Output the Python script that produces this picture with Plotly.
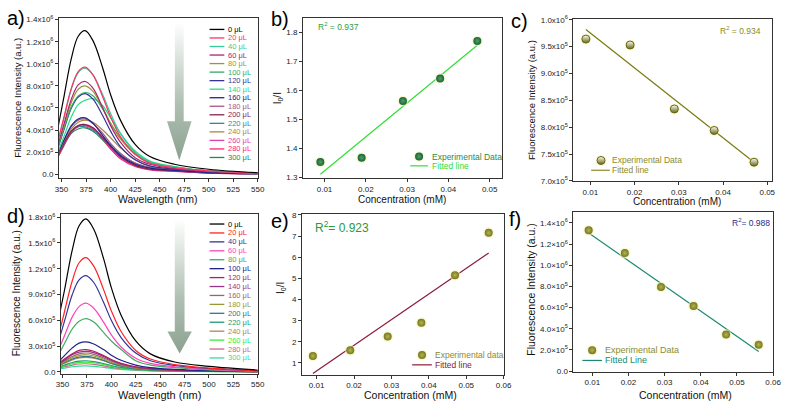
import plotly.graph_objects as go

W, H = 789, 407
FONT = "Liberation Sans, Arial, sans-serif"


def px(x):
    return x / W


def py(y):
    return 1 - y / H


# ---------------- DATA ----------------
WL = [345, 352, 360, 367, 374, 382, 392, 400, 410, 425, 440, 465, 500, 550]
VOLUMES = ["0", "20", "40", "60", "80", "100", "120", "140", "160", "180",
           "200", "220", "240", "260", "280", "300"]

# panel a spectra (units of 1e5 a.u.)
SPEC_A = [
    [3.6, 6.8, 10.5, 12.5, 13.0, 12.1, 9.6, 7.2, 4.9, 2.7, 1.6, 0.9, 0.45, 0.13],
    [2.6, 5.0, 7.8, 9.3, 9.7, 9.0, 7.0, 5.2, 3.4, 1.8, 1.0, 0.6, 0.3, 0.1],
    [2.5, 4.9, 7.7, 9.2, 9.6, 9.0, 7.2, 5.5, 3.7, 2.0, 1.1, 0.65, 0.3, 0.1],
    [2.3, 4.4, 6.8, 8.1, 8.4, 7.8, 6.0, 4.4, 2.9, 1.5, 0.9, 0.5, 0.25, 0.08],
    [2.2, 4.2, 6.5, 7.7, 8.0, 7.5, 6.0, 4.6, 3.2, 1.8, 1.0, 0.6, 0.3, 0.1],
    [2.1, 4.0, 6.1, 7.1, 7.4, 7.1, 5.9, 4.6, 3.3, 1.9, 1.1, 0.65, 0.3, 0.1],
    [2.0, 3.9, 6.0, 7.0, 7.3, 6.8, 5.3, 3.9, 2.5, 1.3, 0.75, 0.45, 0.2, 0.08],
    [1.7, 3.3, 5.2, 6.3, 6.7, 6.85, 6.2, 5.1, 3.7, 2.1, 1.2, 0.7, 0.3, 0.1],
    [1.6, 3.0, 4.4, 5.0, 5.1, 4.6, 3.5, 2.6, 1.7, 0.9, 0.55, 0.35, 0.15, 0.05],
    [1.5, 2.9, 4.3, 4.9, 5.0, 4.6, 3.7, 2.8, 1.9, 1.0, 0.6, 0.35, 0.15, 0.05],
    [1.4, 2.7, 3.9, 4.4, 4.5, 4.2, 3.3, 2.5, 1.6, 0.8, 0.45, 0.3, 0.12, 0.05],
    [1.5, 2.8, 3.9, 4.3, 4.3, 4.0, 3.3, 2.6, 1.8, 1.0, 0.6, 0.35, 0.15, 0.05],
    [1.5, 2.8, 4.1, 4.7, 4.9, 4.7, 4.0, 3.3, 2.4, 1.3, 0.7, 0.4, 0.18, 0.06],
    [1.4, 2.7, 3.9, 4.4, 4.5, 4.2, 3.3, 2.4, 1.5, 0.75, 0.45, 0.3, 0.12, 0.05],
    [1.3, 2.6, 3.8, 4.3, 4.4, 4.1, 3.2, 2.3, 1.4, 0.7, 0.4, 0.25, 0.1, 0.04],
    [1.3, 2.5, 3.7, 4.1, 4.2, 3.9, 3.1, 2.3, 1.5, 0.8, 0.45, 0.3, 0.12, 0.05],
]
COLORS_A = ["#000000", "#ff3366", "#33cc99", "#aa2277", "#999933", "#33aa66",
            "#333399", "#22dd88", "#222288", "#aa5588", "#882255", "#338899",
            "#aa8844", "#dd44aa", "#ff2277", "#228855"]

# panel d spectra (units of 1e5 a.u.)
SPEC_D = [
    [5.6, 9.5, 14.2, 17.0, 17.8, 16.6, 13.2, 9.8, 6.6, 3.6, 2.1, 1.15, 0.65, 0.22],
    [3.8, 7.0, 10.6, 12.7, 13.3, 12.3, 9.6, 7.1, 4.7, 2.5, 1.5, 0.85, 0.45, 0.15],
    [3.2, 5.9, 9.0, 10.7, 11.2, 10.4, 8.1, 6.0, 4.0, 2.2, 1.3, 0.75, 0.4, 0.15],
    [2.3, 4.2, 6.4, 7.6, 8.0, 7.4, 5.8, 4.3, 2.9, 1.6, 1.0, 0.6, 0.3, 0.1],
    [1.8, 3.3, 5.0, 5.9, 6.2, 5.8, 4.6, 3.6, 2.6, 1.3, 0.8, 0.5, 0.25, 0.08],
    [1.1, 1.9, 2.8, 3.35, 3.5, 3.25, 2.6, 1.95, 1.35, 0.8, 0.5, 0.3, 0.15, 0.05],
    [0.9, 1.5, 2.1, 2.5, 2.6, 2.4, 1.9, 1.45, 1.0, 0.6, 0.38, 0.22, 0.12, 0.04],
    [0.85, 1.4, 2.0, 2.3, 2.4, 2.25, 1.8, 1.35, 0.95, 0.55, 0.35, 0.2, 0.1, 0.04],
    [0.8, 1.3, 1.8, 2.1, 2.2, 2.05, 1.65, 1.25, 0.85, 0.5, 0.32, 0.2, 0.1, 0.04],
    [0.7, 1.2, 1.65, 1.9, 2.0, 1.85, 1.5, 1.1, 0.8, 0.45, 0.3, 0.18, 0.09, 0.03],
    [0.65, 1.1, 1.5, 1.72, 1.8, 1.68, 1.35, 1.0, 0.7, 0.42, 0.27, 0.16, 0.08, 0.03],
    [0.5, 0.8, 1.1, 1.25, 1.3, 1.2, 0.98, 0.75, 0.52, 0.32, 0.2, 0.12, 0.06, 0.02],
    [0.6, 1.0, 1.4, 1.62, 1.7, 1.6, 1.3, 0.98, 0.68, 0.4, 0.26, 0.15, 0.08, 0.03],
    [0.45, 0.7, 0.95, 1.1, 1.15, 1.07, 0.86, 0.65, 0.45, 0.28, 0.18, 0.1, 0.05, 0.02],
    [0.4, 0.6, 0.8, 0.92, 0.95, 0.88, 0.7, 0.53, 0.37, 0.23, 0.15, 0.09, 0.05, 0.02],
    [0.3, 0.45, 0.6, 0.68, 0.7, 0.65, 0.52, 0.4, 0.28, 0.17, 0.11, 0.07, 0.04, 0.02],
]
COLORS_D = ["#000000", "#ff2222", "#333399", "#ff44bb", "#44aa66", "#222288",
            "#aa2266", "#993388", "#996666", "#999933", "#337788", "#229977",
            "#aa8855", "#33ee33", "#cc6688", "#33dd99"]

# panel b
CONC_B = [0.009, 0.019, 0.029, 0.038, 0.047]
RATIO_B = [1.352, 1.367, 1.563, 1.640, 1.770]
FIT_B_X = [0.009, 0.047]
FIT_B_Y = [1.310, 1.755]

# panel c (units of 1e5)
CONC_C = [0.009, 0.019, 0.029, 0.038, 0.047]
INT_C = [9.64, 9.53, 8.34, 7.94, 7.35]
FIT_C_X = [0.009, 0.047]
FIT_C_Y = [9.82, 7.35]

# panel e
CONC_E = [0.009, 0.019, 0.029, 0.038, 0.047, 0.056]
RATIO_E = [1.33, 1.60, 2.25, 2.90, 5.15, 7.15]
FIT_E_X = [0.009, 0.056]
FIT_E_Y = [0.50, 6.20]

# panel f (units of 1e5)
CONC_F = [0.009, 0.019, 0.029, 0.038, 0.047, 0.056]
INT_F = [13.30, 11.15, 7.95, 6.15, 3.45, 2.50]
FIT_F_X = [0.009, 0.056]
FIT_F_Y = [13.05, 1.85]

TICKS_A = [0, 2, 4, 6, 8, 10, 12, 14]
TICKTEXT_A = ["0.0", "2.0x10<sup>5</sup>", "4.0x10<sup>5</sup>", "6.0x10<sup>5</sup>",
              "8.0x10<sup>5</sup>", "1.0x10<sup>6</sup>", "1.2x10<sup>6</sup>",
              "1.4x10<sup>6</sup>"]
TICKS_D = [0, 3, 6, 9, 12, 15, 18]
TICKTEXT_D = ["0.0", "3.0x10<sup>5</sup>", "6.0x10<sup>5</sup>", "9.0x10<sup>5</sup>",
              "1.2x10<sup>6</sup>", "1.5x10<sup>6</sup>", "1.8x10<sup>6</sup>"]
TICKS_C = [7.0, 7.5, 8.0, 8.5, 9.0, 9.5, 10.0]
TICKTEXT_C = ["7.0x10<sup>5</sup>", "7.5x10<sup>5</sup>", "8.0x10<sup>5</sup>",
              "8.5x10<sup>5</sup>", "9.0x10<sup>5</sup>", "9.5x10<sup>5</sup>",
              "1.0x10<sup>6</sup>"]
TICKS_F = [0, 2, 4, 6, 8, 10, 12, 14]
TICKTEXT_F = ["0.0", "2.0×10<sup>5</sup>", "4.0×10<sup>5</sup>", "6.0×10<sup>5</sup>",
              "8.0×10<sup>5</sup>", "1.0×10<sup>6</sup>", "1.2×10<sup>6</sup>",
              "1.4×10<sup>6</sup>"]
WL_TICKS = [350, 375, 400, 425, 450, 475, 500, 525, 550]
CONC_TICKS_5 = [0.01, 0.02, 0.03, 0.04, 0.05]
CONC_LABELS_5 = ["0.01", "0.02", "0.03", "0.04", "0.05"]
CONC_TICKS_6 = [0.01, 0.02, 0.03, 0.04, 0.05, 0.06]
CONC_LABELS_6 = ["0.01", "0.02", "0.03", "0.04", "0.05", "0.06"]

# ---------------- LAYOUT GEOMETRY (pixels) ----------------
PANELS = {
    "a": dict(ax="", xd=(55, 257), yd=(14, 178), xr=(347.5, 550), yr=(-0.35, 14.18)),
    "b": dict(ax="2", xd=(303, 505), yd=(14, 178), xr=(0.0048, 0.0529), yr=(1.297, 1.85)),
    "c": dict(ax="3", xd=(578, 780), yd=(15, 181), xr=(0.0062, 0.0511), yr=(7.0, 10.02)),
    "d": dict(ax="4", xd=(57, 257), yd=(215, 378), xr=(348.5, 550), yr=(-0.2, 18.34)),
    "e": dict(ax="5", xd=(302, 507), yd=(215, 379), xr=(0.0061, 0.06), yr=(0.45, 8.03)),
    "f": dict(ax="6", xd=(578, 781), yd=(213, 376), xr=(0.0048, 0.06), yr=(-0.05, 15.0)),
}


def to_data(p, xpx, ypx):
    P = PANELS[p]
    (x0, x1), (y0, y1) = P["xd"], P["yd"]
    (r0, r1), (s0, s1) = P["xr"], P["yr"]
    return (r0 + (xpx - x0) / (x1 - x0) * (r1 - r0),
            s1 - (ypx - y0) / (y1 - y0) * (s1 - s0))


fig = go.Figure()


def axes(p):
    a = PANELS[p]["ax"]
    return dict(xaxis="x" + a, yaxis="y" + a)


# ---- arrows (decoration) ----
def add_arrow(p, xc, top, neck, tip, bh, hh):
    xs = [xc - bh, xc + bh, xc + bh, xc + hh, xc, xc - hh, xc - bh, xc - bh]
    ys = [top, top, neck, neck, tip, neck, neck, top]
    fig.add_trace(go.Scatter(
        x=xs, y=ys, mode="lines", fill="toself", line=dict(width=0),
        fillgradient=dict(type="vertical",
                          colorscale=[[0, "#8da291"], [0.4, "#aebfb1"], [1, "#ffffff"]]),
        hoverinfo="skip", showlegend=False, **axes(p)))


add_arrow("a", 470, 13.8, 4.8, 1.25, 4.5, 12.5)
add_arrow("d", 470, 17.8, 4.7, 2.15, 5.0, 12.5)

# ---- spectra ----
for i in range(len(VOLUMES) - 1, -1, -1):
    fig.add_trace(go.Scatter(x=WL, y=SPEC_A[i], mode="lines", line_shape="spline",
                             line=dict(color=COLORS_A[i], width=1.2),
                             showlegend=False, **axes("a")))
    fig.add_trace(go.Scatter(x=WL, y=SPEC_D[i], mode="lines", line_shape="spline",
                             line=dict(color=COLORS_D[i], width=1.2),
                             showlegend=False, **axes("d")))


def sphere(p, xs, ys, color, center, size=8):
    fig.add_trace(go.Scatter(x=xs, y=ys, mode="markers",
                             marker=dict(size=size + 3, color="rgba(246,242,180,0.55)"),
                             showlegend=False, hoverinfo="skip", **axes(p)))
    fig.add_trace(go.Scatter(x=xs, y=ys, mode="markers",
                             marker=dict(size=size, color=color,
                                         gradient=dict(type="radial", color=center),
                                         line=dict(width=0)),
                             showlegend=False, **axes(p)))


def half(p, xs, ys, color, size=8):
    fig.add_trace(go.Scatter(x=xs, y=ys, mode="markers",
                             marker=dict(size=size + 3, color="rgba(246,242,180,0.55)"),
                             showlegend=False, hoverinfo="skip", **axes(p)))
    fig.add_trace(go.Scatter(x=xs, y=ys, mode="markers",
                             marker=dict(size=size, color="#ffffff",
                                         gradient=dict(type="vertical", color=color),
                                         line=dict(width=1, color=color)),
                             showlegend=False, **axes(p)))


# ---- panel b ----
fig.add_trace(go.Scatter(x=FIT_B_X, y=FIT_B_Y, mode="lines",
                         line=dict(color="#33dd33", width=1.2), showlegend=False, **axes("b")))
sphere("b", CONC_B, RATIO_B, "#1a6534", "#4f9f6a")
# ---- panel c ----
fig.add_trace(go.Scatter(x=FIT_C_X, y=FIT_C_Y, mode="lines",
                         line=dict(color="#7a7a10", width=1.2), showlegend=False, **axes("c")))
half("c", CONC_C, INT_C, "#66660e")
# ---- panel e ----
fig.add_trace(go.Scatter(x=FIT_E_X, y=FIT_E_Y, mode="lines",
                         line=dict(color="#8b1a3a", width=1.2), showlegend=False, **axes("e")))
sphere("e", CONC_E, RATIO_E, "#77771a", "#b3b35c")
# ---- panel f ----
fig.add_trace(go.Scatter(x=FIT_F_X, y=FIT_F_Y, mode="lines",
                         line=dict(color="#1a8a70", width=1.2), showlegend=False, **axes("f")))
sphere("f", CONC_F, INT_F, "#77771a", "#b3b35c")

annotations = []
shapes = []


def text(x, y, s, size=9, color="#111", anchor="left", angle=0, yanchor="middle"):
    annotations.append(dict(x=px(x), y=py(y), xref="paper", yref="paper", text=s,
                            showarrow=False, xanchor=anchor, yanchor=yanchor,
                            textangle=angle,
                            font=dict(family=FONT, size=size, color=color)))


def hline(x0, x1, y, color, width=1.2):
    shapes.append(dict(type="line", xref="paper", yref="paper", x0=px(x0), x1=px(x1),
                       y0=py(y), y1=py(y), line=dict(color=color, width=width)))


# ---- small legends b, c, e, f ----
def small_legend(p, mx, my, tx, lx0, lx1, ly, t1, c1, t2, c2, marker, size=8.5):
    dx, dy = to_data(p, mx, my)
    if marker == "half":
        half(p, [dx], [dy], "#66660e")
    elif marker == "green":
        sphere(p, [dx], [dy], "#1a6534", "#4f9f6a")
    else:
        sphere(p, [dx], [dy], "#77771a", "#b3b35c")
    text(tx, my, t1, size=size, color=c1)
    hline(lx0, lx1, ly, c2)
    text(tx, ly, t2, size=size, color=c2)


small_legend("b", 421, 156, 432, 412, 430, 165.5, "Experimental Data", "#2e8b3e",
             "Fitted line", "#33dd33", "green")
small_legend("c", 606, 160, 615, 596, 615, 170, "Experimental Data", "#8b8b2b",
             "Fitted line", "#8b8b2b", "half")
small_legend("e", 424, 359, 435, 414, 434, 369, "Experimental data", "#8b8b2b",
             "Fitted line", "#8b1a3a", "olive")
small_legend("f", 597, 354, 608, 587, 607, 364.5, "Experimental Data", "#8b8b2b",
             "Fitted Line", "#1a8a70", "olive", size=9)

# ---- big legends a, d ----
for i, v in enumerate(VOLUMES):
    ya = 26 + i * 8.73
    hline(208, 223, ya, COLORS_A[i], 1.3)
    text(225, ya, v + " μL", size=7.5, color=COLORS_A[i])
    yd = 225 + i * 9.13
    hline(208, 223, yd, COLORS_D[i], 1.3)
    text(225, yd, v + " μL", size=7.5, color=COLORS_D[i])

# ---- R^2 ----
text(316, 23, "R<sup>2</sup> = 0.937", size=8.5, color="#2f9e3f")
text(725, 27, "R<sup>2</sup> = 0.934", size=8.5, color="#8b8b1a")
text(313, 228, "R<sup>2</sup>= 0.923", size=12, color="#2a9a3a")
text(737, 223, "R<sup>2</sup>= 0.988", size=8.5, color="#2a2a8a")

# ---- panel labels ----
for lab, x, y in [("a)", 0, 14), ("b)", 268, 15), ("c)", 512, 17),
                  ("d)", 0, 217), ("e)", 268, 222), ("f)", 510, 220)]:
    text(x, y, lab, size=20, color="#000")

# ---- axis titles ----
FI = "Fluorescence Intensity (a.u.)"
text(13, 96, FI, size=9.5, color="#111", anchor="center", angle=-90)
text(12, 296, FI, size=10, color="#111", anchor="center", angle=-90)
text(536, 98, FI, size=9.5, color="#111", anchor="center", angle=-90)
text(534, 292, FI, size=10.5, color="#111", anchor="center", angle=-90)
text(277, 96, "I<sub>0</sub>/I", size=10, color="#111", anchor="center", angle=-90)
text(280, 290, "I<sub>0</sub>/I", size=10, color="#111", anchor="center", angle=-90)
text(156, 199, "Wavelength (nm)", size=10.5, color="#111", anchor="center")
text(157, 400, "Wavelength (nm)", size=11, color="#111", anchor="center")
text(404, 200, "Concentration (mM)", size=10, color="#111", anchor="center")
text(683, 202, "Concentration (mM)", size=10, color="#111", anchor="center")
text(412, 400, "Concentration (mM)", size=10.5, color="#111", anchor="center")
text(692, 400, "Concentration (mM)", size=10.5, color="#111", anchor="center")

# ---- axes ----
layout_axes = {}
AXSTYLE = dict(showline=True, linecolor="#333", linewidth=1, mirror=True,
               ticks="outside", ticklen=3, tickwidth=1, tickcolor="#333",
               showgrid=False, zeroline=False,
               tickfont=dict(family=FONT, size=8, color="#222"))
TICKS = {
    "a": (WL_TICKS, None, TICKS_A, TICKTEXT_A),
    "b": (CONC_TICKS_5, CONC_LABELS_5, [1.3, 1.4, 1.5, 1.6, 1.7, 1.8],
          ["1.3", "1.4", "1.5", "1.6", "1.7", "1.8"]),
    "c": (CONC_TICKS_5, CONC_LABELS_5, TICKS_C, TICKTEXT_C),
    "d": (WL_TICKS, None, TICKS_D, TICKTEXT_D),
    "e": (CONC_TICKS_6, CONC_LABELS_6, [1, 2, 3, 4, 5, 6, 7, 8], None),
    "f": (CONC_TICKS_6, CONC_LABELS_6, TICKS_F, TICKTEXT_F),
}
for p, P in PANELS.items():
    a = P["ax"]
    xt, xtt, yt, ytt = TICKS[p]
    xa = dict(AXSTYLE, domain=[px(P["xd"][0]), px(P["xd"][1])], range=list(P["xr"]),
              anchor="y" + a, tickvals=xt)
    ya = dict(AXSTYLE, domain=[py(P["yd"][1]), py(P["yd"][0])], range=list(P["yr"]),
              anchor="x" + a, tickvals=yt)
    if xtt:
        xa["ticktext"] = xtt
    if ytt:
        ya["ticktext"] = ytt
    layout_axes["xaxis" + a] = xa
    layout_axes["yaxis" + a] = ya

fig.update_layout(
    width=W, height=H, margin=dict(l=0, r=0, t=0, b=0),
    paper_bgcolor="white", plot_bgcolor="white",
    showlegend=False, annotations=annotations, shapes=shapes,
    font=dict(family=FONT), **layout_axes)

fig.write_html("out.html")
